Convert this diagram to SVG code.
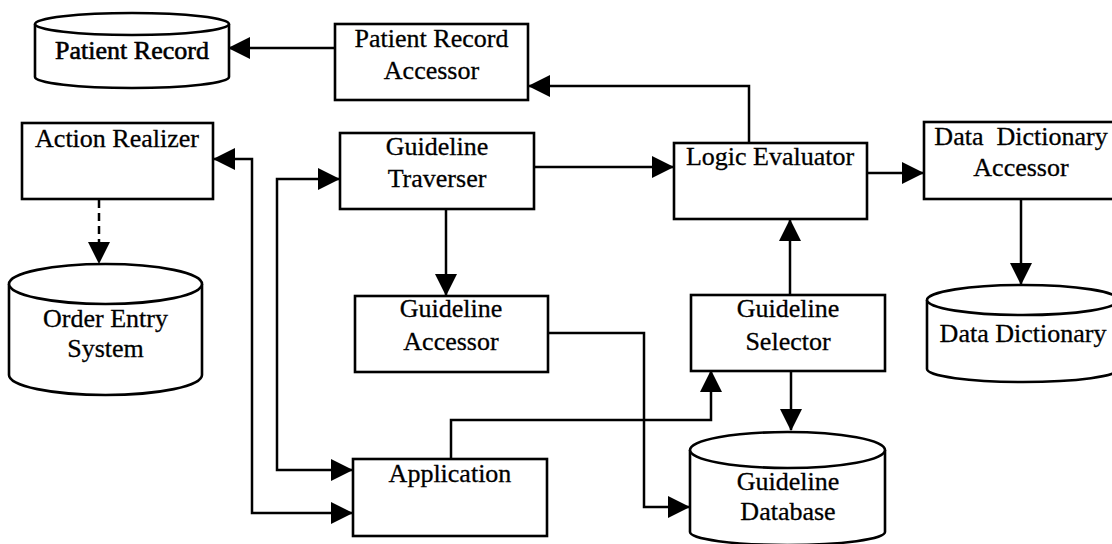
<svg xmlns="http://www.w3.org/2000/svg" width="1112" height="544" viewBox="0 0 1112 544">
<style>
.box{fill:#fff;stroke:#000;stroke-width:2.6}
.cyl{fill:#fff;stroke:#000;stroke-width:2.6}
.lbl{font-family:"Liberation Serif","Times New Roman",serif;font-size:26px;fill:#000;text-anchor:middle;stroke:#000;stroke-width:0.3}
.bold{stroke-width:0.6}
.conn{fill:none;stroke:#000;stroke-width:2.5;marker-end:url(#ah)}
.both{marker-start:url(#ah)}
.dash{stroke-dasharray:8 5}
</style>
<defs>
<marker id="ah" markerUnits="userSpaceOnUse" markerWidth="22" markerHeight="22" refX="21" refY="11" orient="auto-start-reverse">
<path d="M0,0 L22,11 L0,22 Z" fill="#000"/>
</marker>
</defs>
<rect width="1112" height="544" fill="#fff"/>

<g id="connectors">
<path class="conn" d="M335,48 L229,48"/>
<path class="conn" d="M749,143 L749,86 L529,86"/>
<path class="conn" d="M534,167 L673,167"/>
<path class="conn" d="M867,173 L923,173"/>
<path class="conn" d="M446,209 L446,295"/>
<path class="conn" d="M1021,199 L1021,284"/>
<path class="conn" d="M790,295 L790,220"/>
<path class="conn" d="M791,371 L791,430"/>
<path class="conn" d="M544,333 L644,333 L644,507 L689,507"/>
<path class="conn" d="M451,459 L451,420 L711,420 L711,371"/>
<path class="conn both" d="M214,159 L252,159 L252,513 L352,513"/>
<path class="conn both" d="M339,179 L277,179 L277,470 L352,470"/>
<path class="conn dash" d="M99,200 L99,263"/>
</g>

<g id="patient-record">
<path class="cyl" d="M35,24 L35,77 A97,11 0 0 0 229,77 L229,24"/>
<ellipse class="cyl" cx="132" cy="24" rx="97" ry="11"/>
<text class="lbl bold" x="132" y="59">Patient Record</text>
</g>

<g id="patient-record-accessor">
<rect class="box" x="335" y="24" width="193" height="76"/>
<text class="lbl" x="431.5" y="47">Patient Record</text>
<text class="lbl" x="431.5" y="79">Accessor</text>
</g>

<g id="action-realizer">
<rect class="box" x="22" y="123" width="191" height="76"/>
<text class="lbl" x="117" y="147">Action Realizer</text>
</g>

<g id="guideline-traverser">
<rect class="box" x="340" y="133" width="194" height="76"/>
<text class="lbl" x="437" y="155">Guideline</text>
<text class="lbl" x="437" y="187">Traverser</text>
</g>

<g id="logic-evaluator">
<rect class="box" x="674" y="143" width="193" height="76"/>
<text class="lbl" x="770" y="165">Logic Evaluator</text>
</g>

<g id="data-dictionary-accessor">
<rect class="box" x="924" y="122" width="194" height="77"/>
<text class="lbl" x="1021" y="145" xml:space="preserve">Data  Dictionary</text>
<text class="lbl" x="1021" y="176">Accessor</text>
</g>

<g id="order-entry-system">
<path class="cyl" d="M9,284 L9,375 A96.5,20 0 0 0 202,375 L202,284"/>
<ellipse class="cyl" cx="105.5" cy="284" rx="96.5" ry="20"/>
<text class="lbl" x="105.5" y="327">Order Entry</text>
<text class="lbl" x="105.5" y="357">System</text>
</g>

<g id="guideline-accessor">
<rect class="box" x="355" y="296" width="193" height="76"/>
<text class="lbl" x="451" y="317">Guideline</text>
<text class="lbl" x="451" y="350">Accessor</text>
</g>

<g id="guideline-selector">
<rect class="box" x="691" y="295" width="194" height="76"/>
<text class="lbl" x="788" y="317">Guideline</text>
<text class="lbl" x="788" y="350">Selector</text>
</g>

<g id="data-dictionary">
<path class="cyl" d="M927,300 L927,369 A96,13 0 0 0 1119,369 L1119,300"/>
<ellipse class="cyl" cx="1023" cy="300" rx="96" ry="15"/>
<text class="lbl" x="1023" y="342">Data Dictionary</text>
</g>

<g id="application">
<rect class="box" x="353" y="459" width="194" height="77"/>
<text class="lbl" x="450" y="482">Application</text>
</g>

<g id="guideline-database">
<path class="cyl" d="M690,450 L690,532 A97.5,13 0 0 0 885,532 L885,450"/>
<ellipse class="cyl" cx="787.5" cy="450" rx="97.5" ry="18"/>
<text class="lbl" x="788" y="490">Guideline</text>
<text class="lbl" x="788" y="520">Database</text>
</g>
</svg>
